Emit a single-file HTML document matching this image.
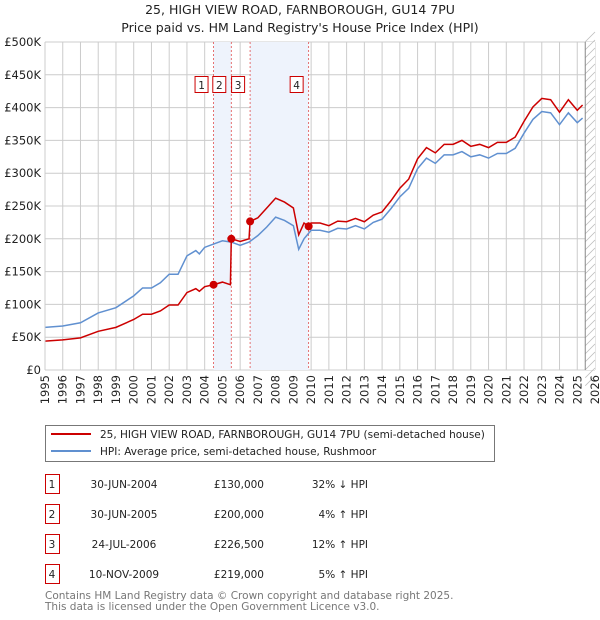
<!DOCTYPE html>
<html><head><meta charset="utf-8">
<style>
body{margin:0;background:#fff;font-family:"Liberation Sans","DejaVu Sans",sans-serif;}
#wrap{position:relative;width:600px;height:620px;overflow:hidden}
svg text{font-family:"DejaVu Sans","Liberation Sans",sans-serif}
</style></head>
<body>
<div id="wrap">
<svg id="chart" width="600" height="620" xmlns="http://www.w3.org/2000/svg">
<text x="300" y="14" font-size="12.5" text-anchor="middle" fill="#222">25, HIGH VIEW ROAD, FARNBOROUGH, GU14 7PU</text>
<text x="300" y="32" font-size="12.5" text-anchor="middle" fill="#222">Price paid vs. HM Land Registry's House Price Index (HPI)</text>
<g id="grid"></g>
<g id="bands"></g>
<g id="lines"></g>
<g id="marks"></g>
<g id="axes"></g>
<!-- legend -->
<rect x="45.5" y="425.5" width="449" height="36" fill="#fff" stroke="#777"/>
<line x1="51" y1="434" x2="91" y2="434" stroke="#cc0000" stroke-width="2"/>
<text x="100" y="438" font-size="10.5" fill="#222">25, HIGH VIEW ROAD, FARNBOROUGH, GU14 7PU (semi-detached house)</text>
<line x1="51" y1="451" x2="91" y2="451" stroke="#6090d0" stroke-width="2"/>
<text x="100" y="455" font-size="10.5" fill="#222">HPI: Average price, semi-detached house, Rushmoor</text>
<g id="table" font-size="10.5" fill="#222"></g>
<text x="45" y="599" font-size="10.5" fill="#777">Contains HM Land Registry data © Crown copyright and database right 2025.</text>
<text x="45" y="610" font-size="10.5" fill="#777">This data is licensed under the Open Government Licence v3.0.</text>
</svg>
</div>
<script>
const hpiYears=[1995,1996,1997,1998,1999,2000,2000.5,2001,2001.5,2002,2002.5,2003,2003.5,2003.7,2004,2004.5,2005,2005.5,2006,2006.5,2007,2007.5,2008,2008.5,2009,2009.3,2009.6,2010,2010.5,2011,2011.5,2012,2012.5,2013,2013.5,2014,2014.5,2015,2015.5,2016,2016.5,2017,2017.5,2018,2018.5,2019,2019.5,2020,2020.5,2021,2021.5,2022,2022.5,2023,2023.5,2024,2024.5,2025,2025.3];
const hpiValues=[65,67,72,87,95,113,125,125,133,146,146,174,182,177,187,192,197,195,190,195,205,218,233,228,220,184,200,213,213,210,216,215,220,215,225,230,246,264,277,307,323,315,328,328,333,325,328,323,330,330,338,361,382,394,392,374,392,377,384];
const propYears=[1995,1996,1997,1998,1999,2000,2000.5,2001,2001.5,2002,2002.5,2003,2003.5,2003.7,2004,2004.5,2005,2005.45,2005.5,2006,2006.5,2006.56,2007,2007.5,2008,2008.5,2009,2009.3,2009.6,2009.86,2010,2010.5,2011,2011.5,2012,2012.5,2013,2013.5,2014,2014.5,2015,2015.5,2016,2016.5,2017,2017.5,2018,2018.5,2019,2019.5,2020,2020.5,2021,2021.5,2022,2022.5,2023,2023.5,2024,2024.5,2025,2025.3];
const propValues=[44,46,49,59,65,77,85,85,90,99,99,118,124,120,127,130,134,130,200,196,200,226.5,232,247,262,256,247,206,224,219,224,224,220,227,226,231,226,236,241,258,277,291,322,339,331,344,344,350,341,344,339,347,347,355,379,401,414,412,393,412,396,404];
const saleLabels=["1","2","3","4"];
const saleYears=[2004.5,2005.5,2006.56,2009.86];
const salePrices=[130,200,226.5,219];
const saleDates=["30-JUN-2004","30-JUN-2005","24-JUL-2006","10-NOV-2009"];
const salePriceText=["£130,000","£200,000","£226,500","£219,000"];
const saleHpiText=["32% ↓ HPI","4% ↑ HPI","12% ↑ HPI","5% ↑ HPI"];
const yTicks=[0,50,100,150,200,250,300,350,400,450,500];
const yTickLabels=["£0","£50K","£100K","£150K","£200K","£250K","£300K","£350K","£400K","£450K","£500K"];
const xTicks=[1995,1996,1997,1998,1999,2000,2001,2002,2003,2004,2005,2006,2007,2008,2009,2010,2011,2012,2013,2014,2015,2016,2017,2018,2019,2020,2021,2022,2023,2024,2025,2026];

const NS="http://www.w3.org/2000/svg";
const L=45,R=595,T=42,B=370;
const xs=y=>L+(y-1995)/(2026-1995)*(R-L);
const ys=v=>B-v/500*(B-T);
function mk(tag,attrs,parent){const e=document.createElementNS(NS,tag);for(const k in attrs)e.setAttribute(k,attrs[k]);document.getElementById(parent).appendChild(e);return e;}

// bands
for(let i=0;i<saleYears.length;i+=2){
  const b=mk('rect',{x:xs(saleYears[i]),y:T,width:xs(saleYears[i+1])-xs(saleYears[i]),height:B-T,fill:'#eef3fc'},'bands');
  
  
}
// grid
yTicks.forEach((v,i)=>{
  const l=mk('line',{x1:L,x2:R,y1:ys(v),y2:ys(v),stroke:'#ccc','stroke-width':1},'grid');
  
  
  const t=mk('text',{x:L-4,y:ys(v)+4,'font-size':11.5,'text-anchor':'end',fill:'#222'},'axes');
  t.textContent=yTickLabels[i];
  
  
});
xTicks.forEach(y=>{
  const l=mk('line',{x1:xs(y),x2:xs(y),y1:T,y2:B,stroke:'#ccc','stroke-width':1},'grid');
  
  
  const t=mk('text',{x:0,y:0,'font-size':11.5,'text-anchor':'end',fill:'#222',transform:`translate(${xs(y)+4},${B+5}) rotate(-90)`},'axes');
  t.textContent=String(y);
  
  
});
// hatched future region
const hx=xs(2025.45);
const hr=mk('rect',{x:hx,y:T,width:R-hx,height:B-T,fill:'#fff',stroke:'none'},'bands');


for(let yy=T-10;yy<B+10;yy+=8){
  const h=mk('line',{x1:hx,y1:yy+(R-hx),x2:R,y2:yy,stroke:'#bbb','stroke-width':0.8},'bands');
  
  
}
const hb=mk('line',{x1:hx,x2:hx,y1:T,y2:B,stroke:'#888','stroke-width':1},'bands');


// sale vlines
saleYears.forEach(y=>{
  const l=mk('line',{x1:xs(y),x2:xs(y),y1:T,y2:B,stroke:'#e05050','stroke-width':0.8,'stroke-dasharray':'2,2'},'bands');
  
  
});
// series
const hp=mk('polyline',{points:hpiYears.map((y,i)=>xs(y)+','+ys(hpiValues[i])).join(' '),fill:'none',stroke:'#6090d0','stroke-width':1.5},'lines');


const pp=mk('polyline',{points:propYears.map((y,i)=>xs(y)+','+ys(propValues[i])).join(' '),fill:'none',stroke:'#cc0000','stroke-width':1.5},'lines');


// sale points + label boxes
saleYears.forEach((y,i)=>{
  const c=mk('circle',{cx:xs(y),cy:ys(salePrices[i]),r:4,fill:'#cc0000'},'marks');
  
  
  const bx=mk('rect',{x:xs(y)-18.5,y:76.5,width:13,height:16,fill:'#fff',stroke:'#cc0000'},'marks');
  
  
  const t=mk('text',{x:xs(y)-12,y:89,'font-size':10.5,'text-anchor':'middle',fill:'#222'},'marks');
  t.textContent=saleLabels[i];
  
  
});
// axes frame
const ax=mk('line',{x1:L,x2:L,y1:T,y2:B,stroke:'#ccc'},'axes');


// table
saleLabels.forEach((s,i)=>{
  const cy=484+i*30;
  const r=mk('rect',{x:45.5,y:cy-9.5,width:14,height:19,fill:'#fff',stroke:'#cc0000'},'table');
  
  
  const cells=[[52,s,'middle'],[124,saleDates[i],'middle'],[264,salePriceText[i],'end'],[368,saleHpiText[i],'end']];
  cells.forEach(c=>{
    const t=mk('text',{x:c[0],y:cy+4,'text-anchor':c[2],'font-size':10.5,fill:'#222'},'table');
    t.textContent=c[1];
    
    
  });
});
</script>
</body></html>
